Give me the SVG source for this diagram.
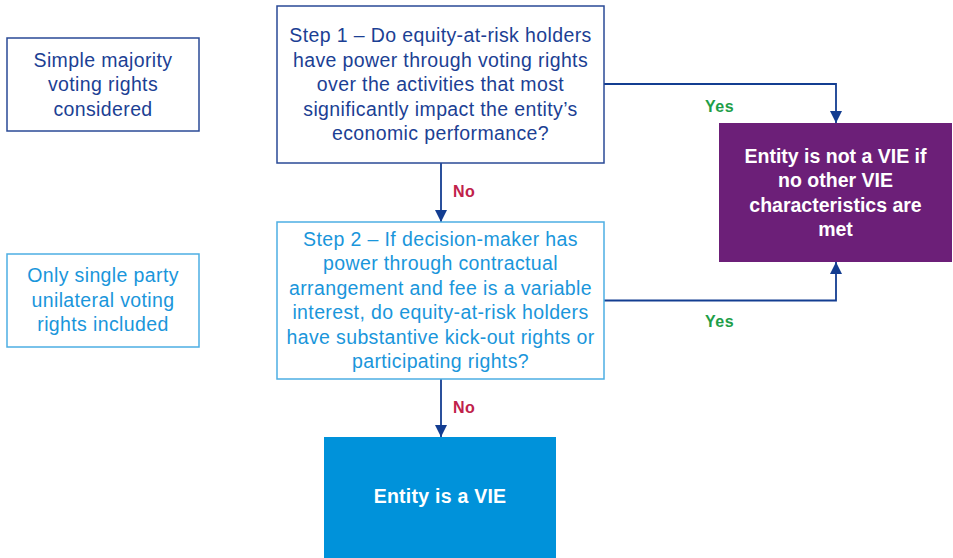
<svg xmlns="http://www.w3.org/2000/svg" width="953" height="558" viewBox="0 0 953 558">
<defs>
<style>
.t{font-family:"Liberation Sans",Arial,sans-serif;font-size:19.5px;letter-spacing:0.38px;text-anchor:middle}
.dk{fill:#1C3F94}
.lt{fill:#1A96DB}
.wb{fill:#ffffff;font-weight:bold;letter-spacing:0.25px}
.wb0{letter-spacing:0}
.lbl{font-family:"Liberation Sans",Arial,sans-serif;font-size:16px;font-weight:bold;letter-spacing:0.5px}
.no{fill:#C0224A}
.yes{fill:#1E9E48}
.bd{fill:#fff;stroke:#2A4A96;stroke-width:1.5}
.bl{fill:#fff;stroke:#4DAEE3;stroke-width:1.5}
.c{fill:none;stroke:#133D91;stroke-width:1.8}
</style>
<marker id="ah" viewBox="0 0 12 12" refX="12" refY="6" markerWidth="12" markerHeight="12" markerUnits="userSpaceOnUse" orient="auto">
<path d="M0,0 L12,6 L0,12 Z" fill="#133D91"/>
</marker>
</defs>
<rect width="953" height="558" fill="#fff"/>
<g id="connectors">
<path class="c" d="M604,84 H836 V123" marker-end="url(#ah)"/>
<path class="c" d="M441,163 V222" marker-end="url(#ah)"/>
<path class="c" d="M604,300.5 H836 V262" marker-end="url(#ah)"/>
<path class="c" d="M441,379 V437" marker-end="url(#ah)"/>
<text class="lbl yes" x="705" y="112">Yes</text>
<text class="lbl no" x="453" y="197">No</text>
<text class="lbl yes" x="705" y="327">Yes</text>
<text class="lbl no" x="453" y="413">No</text>
</g>
<g id="note1">
<rect class="bd" x="7" y="38" width="192" height="93"/>
<text class="t dk"><tspan x="103" y="66.5">Simple majority</tspan><tspan x="103" y="91">voting rights</tspan><tspan x="103" y="115.5">considered</tspan></text>
</g>
<g id="note2">
<rect class="bl" x="7" y="254" width="192" height="93"/>
<text class="t lt"><tspan x="103" y="282">Only single party</tspan><tspan x="103" y="306.5">unilateral voting</tspan><tspan x="103" y="331">rights included</tspan></text>
</g>
<g id="step1">
<rect class="bd" x="277" y="6" width="327" height="157"/>
<text class="t dk"><tspan x="440.5" y="42">Step 1 – Do equity-at-risk holders</tspan><tspan x="440.5" y="66.5">have power through voting rights</tspan><tspan x="440.5" y="91">over the activities that most</tspan><tspan x="440.5" y="115.5">significantly impact the entity’s</tspan><tspan x="440.5" y="140">economic performance?</tspan></text>
</g>
<g id="step2">
<rect class="bl" x="277" y="222" width="327" height="157"/>
<text class="t lt"><tspan x="440.5" y="245.5">Step 2 – If decision-maker has</tspan><tspan x="440.5" y="270">power through contractual</tspan><tspan x="440.5" y="294.5">arrangement and fee is a variable</tspan><tspan x="440.5" y="319">interest, do equity-at-risk holders</tspan><tspan x="440.5" y="343.5">have substantive kick-out rights or</tspan><tspan x="440.5" y="368">participating rights?</tspan></text>
</g>
<g id="notvie">
<rect x="719" y="123" width="233" height="139" fill="#6C1F78"/>
<text class="t wb wb0"><tspan x="835.5" y="162.5">Entity is not a VIE if</tspan><tspan x="835.5" y="187">no other VIE</tspan><tspan x="835.5" y="211.5">characteristics are</tspan><tspan x="835.5" y="236">met</tspan></text>
</g>
<g id="vie">
<rect x="324" y="437" width="232" height="121" fill="#0092DA"/>
<text class="t wb" x="440" y="503">Entity is a VIE</text>
</g>
</svg>
